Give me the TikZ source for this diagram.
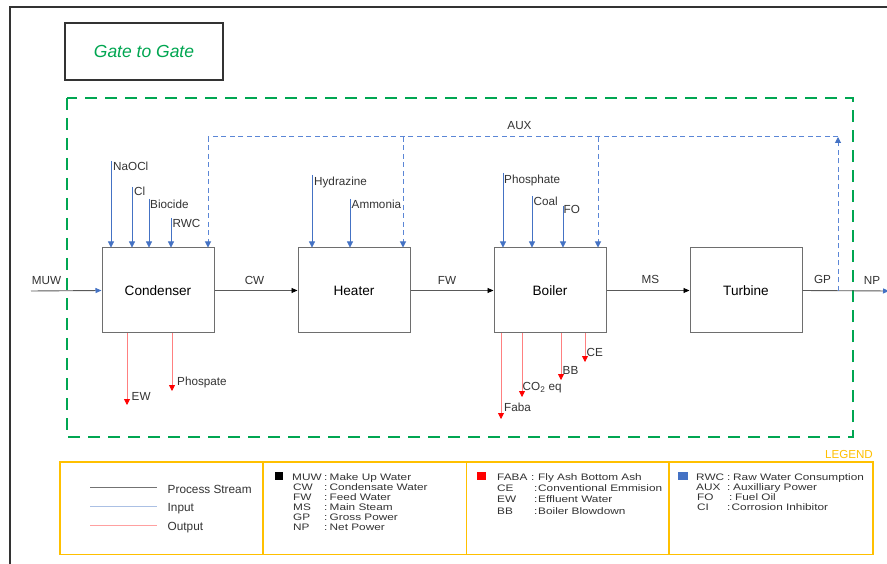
\documentclass[tikz,border=0pt]{standalone}
\usepackage{fontspec}
\setmainfont{Liberation Sans}
\usetikzlibrary{arrows.meta}
\definecolor{gatgreen}{HTML}{00A651}
\definecolor{inblue}{HTML}{4472C4}
\definecolor{auxblue}{HTML}{5B86D6}
\definecolor{outred}{HTML}{FF8080}
\definecolor{legy}{HTML}{FFC000}
\definecolor{boxgray}{HTML}{6E6E6E}
\definecolor{framegray}{HTML}{333333}
\definecolor{txtgray}{HTML}{333333}
\newcommand\lsq[1]{\scalebox{1}[0.8]{#1}}
\begin{document}
\begin{tikzpicture}[x=1pt,y=-1pt,
  unit/.style={draw=boxgray, line width=1pt, minimum width=112pt, minimum height=85pt, inner sep=0pt, text=black, font=\fontsize{13.6}{15}\selectfont},
  lbl/.style={inner sep=0pt, anchor=base west, text=txtgray, font=\fontsize{11.7}{13}\selectfont},
  flowlbl/.style={inner sep=0pt, anchor=base, text=txtgray, font=\fontsize{11.7}{13}\selectfont},
  proc/.style={draw=black!65, line width=0.9pt, -{Triangle[length=6pt,width=5pt,color=black]}},
  procb/.style={draw=black!65, line width=0.9pt, -{Triangle[length=6pt,width=5pt,color=inblue]}},
  inp/.style={draw=inblue, line width=0.8pt, -{Triangle[length=6pt,width=6pt,color=inblue]}},
  auxl/.style={draw=auxblue, line width=1pt, dash pattern=on 5pt off 3.5pt},
  auxa/.style={auxl, -{Triangle[length=6pt,width=6pt,color=inblue]}},
  outp/.style={draw=outred, line width=0.8pt, -{Triangle[length=6pt,width=6pt,color=red]}},
  legtxt/.style={inner sep=0pt, anchor=base west, text=txtgray, font=\fontsize{11.8}{12}\selectfont}
]
\useasboundingbox (0,0) rectangle (887,564);
\fill[white] (0,0) rectangle (887,564);

% outer frame
\draw[framegray, line width=2.2pt] (10,575) -- (10,7) -- (900,7);

% gate to gate
\node[draw=framegray, line width=1.5pt, minimum width=158pt, minimum height=57pt, inner sep=0pt,
      text=gatgreen, font=\fontsize{17.5}{19}\selectfont\itshape] (gtg) at (144,51.5) {Gate to Gate};

% boundary
\draw[gatgreen, line width=2.5pt, dash pattern=on 12pt off 8pt] (67,98) rectangle (853,437);

% units
\node[unit] (cond) at (158,290.5) {Condenser};
\node[unit] (heat) at (354,290.5) {Heater};
\node[unit] (boil) at (550,290.5) {Boiler};
\node[unit] (turb) at (746,290.5) {Turbine};

% main flows
\coordinate (muw) at (31,291);
\coordinate (npend) at (889,291);
\draw[procb] (muw) -- (cond.west);
\draw[proc] (cond.east) -- (heat.west);
\draw[proc] (heat.east) -- (boil.west);
\draw[proc] (boil.east) -- (turb.west);
\draw[procb] (turb.east) -- (npend);
\node[flowlbl] (lmuw) at (46.5,284.5) {MUW};
\node[flowlbl] (lcw) at (254.5,284.5) {CW};
\node[flowlbl] (lfw) at (447,284.5) {FW};
\node[flowlbl] (lms) at (650.5,284) {MS};
\node[flowlbl] (lgp) at (822.5,284) {GP};
\node[flowlbl] (lnp) at (872,284.5) {NP};

% AUX loop
\coordinate (auxsrc) at (838,291);
\coordinate (auxtop) at (838,137);
\coordinate (a1) at (208,137);
\coordinate (a2) at (403,137);
\coordinate (a3) at (598,137);
\draw[auxa] (auxsrc) -- (auxtop);
\draw[auxl] (auxtop) -- (a1);
\draw[auxa] (a1) -- (a1 |- cond.north);
\draw[auxa] (a2) -- (a2 |- heat.north);
\draw[auxa] (a3) -- (a3 |- boil.north);
\node[flowlbl] (laux) at (519.5,129.5) {AUX};

% condenser inputs
\coordinate (inaocl) at (111,161);
\coordinate (icl) at (132,187);
\coordinate (ibio) at (149,199);
\coordinate (irwc) at (171,218);
\draw[inp] (inaocl) -- (inaocl |- cond.north);
\draw[inp] (icl) -- (icl |- cond.north);
\draw[inp] (ibio) -- (ibio |- cond.north);
\draw[inp] (irwc) -- (irwc |- cond.north);
\node[lbl] (lnaocl) at (113,171) {NaOCl};
\node[lbl] (lcl) at (134,196) {Cl};
\node[lbl] (lbio) at (150,208.5) {Biocide};
\node[lbl] (lrwc) at (172.5,228) {RWC};

% heater inputs
\coordinate (ihyd) at (312,175);
\coordinate (iamm) at (350,199);
\draw[inp] (ihyd) -- (ihyd |- heat.north);
\draw[inp] (iamm) -- (iamm |- heat.north);
\node[lbl] (lhyd) at (314,186) {Hydrazine};
\node[lbl] (lamm) at (351.5,209) {Ammonia};

% boiler inputs
\coordinate (iphos) at (503,173);
\coordinate (icoal) at (532,196);
\coordinate (ifo) at (563,206);
\draw[inp] (iphos) -- (iphos |- boil.north);
\draw[inp] (icoal) -- (icoal |- boil.north);
\draw[inp] (ifo) -- (ifo |- boil.north);
\node[lbl] (lphos) at (504,183.5) {Phosphate};
\node[lbl] (lcoal) at (533.5,206) {Coal};
\node[lbl] (lfo) at (563.5,213.5) {FO};

% condenser outputs
\coordinate (oew) at (127,405);
\coordinate (ophos) at (172,391);
\draw[outp] (oew |- cond.south) -- (oew);
\draw[outp] (ophos |- cond.south) -- (ophos);
\node[lbl] (lew) at (131.5,400) {EW};
\node[lbl] (lophos) at (177,385.5) {Phospate};

% boiler outputs
\coordinate (ofaba) at (501,419);
\coordinate (oco) at (522,397);
\coordinate (obb) at (561,380);
\coordinate (oce) at (585,362);
\draw[outp] (ofaba |- boil.south) -- (ofaba);
\draw[outp] (oco |- boil.south) -- (oco);
\draw[outp] (obb |- boil.south) -- (obb);
\draw[outp] (oce |- boil.south) -- (oce);
\node[lbl] (lfaba) at (504,411) {Faba};
\node[lbl] (lco) at (522.5,390.5) {CO\textsubscript{2} eq};
\node[lbl] (lbb) at (562.5,374.5) {BB};
\node[lbl] (lce) at (586.5,356.5) {CE};

% legend
\node[inner sep=0pt, anchor=base east, text=legy, font=\fontsize{11.6}{12}\selectfont] (legtitle) at (873,458.5) {LEGEND};
\draw[legy, line width=1.6pt] (60,462) rectangle (873,554.5);
\draw[legy, line width=1.6pt] (263,462) -- (263,554.5);
\draw[legy, line width=1.6pt] (466.5,462) -- (466.5,554.5);
\draw[legy, line width=1.6pt] (669,462) -- (669,554.5);

% column 1
\draw[black!55, line width=1pt] (90,487) -- (157,487);
\draw[inblue!45, line width=1pt] (90,506.5) -- (157,506.5);
\draw[outred!75, line width=1pt] (90,525) -- (157,525);
\node[legtxt] (lps) at (167.5,493) {Process Stream};
\node[legtxt] (lin) at (167.5,511.3) {Input};
\node[legtxt] (lout) at (167.5,530) {Output};

% column 2
\fill[black] (275,472) rectangle (282.5,480);
\node[legtxt] (k1) at (292,480) {\lsq{MUW}};
\node[legtxt] (k2) at (293,490) {\lsq{CW}};
\node[legtxt] (k3) at (293,500) {\lsq{FW}};
\node[legtxt] (k4) at (293,510.5) {\lsq{MS}};
\node[legtxt] (k5) at (293,520.5) {\lsq{GP}};
\node[legtxt] (k6) at (293,530.5) {\lsq{NP}};
\node[legtxt] (c1) at (324,480) {\lsq{:}};
\node[legtxt] (c2) at (324,490) {\lsq{:}};
\node[legtxt] (c3) at (324,500) {\lsq{:}};
\node[legtxt] (c4) at (324,510.5) {\lsq{:}};
\node[legtxt] (c5) at (324,520.5) {\lsq{:}};
\node[legtxt] (c6) at (324,530.5) {\lsq{:}};
\node[legtxt] (d1) at (329.5,480) {\lsq{Make Up Water}};
\node[legtxt] (d2) at (329.5,490) {\lsq{Condensate Water}};
\node[legtxt] (d3) at (329.5,500) {\lsq{Feed Water}};
\node[legtxt] (d4) at (329.5,510.5) {\lsq{Main Steam}};
\node[legtxt] (d5) at (329.5,520.5) {\lsq{Gross Power}};
\node[legtxt] (d6) at (329.5,530.5) {\lsq{Net Power}};

% column 3
\fill[red] (477,472) rectangle (486,480);
\node[legtxt] (k7) at (497,480) {\lsq{FABA}};
\node[legtxt] (k8) at (497,491) {\lsq{CE}};
\node[legtxt] (k9) at (497,502.5) {\lsq{EW}};
\node[legtxt] (k10) at (497,514) {\lsq{BB}};
\node[legtxt] (c7) at (531,480) {\lsq{:}};
\node[legtxt] (c8) at (534,491) {\lsq{:}};
\node[legtxt] (c9) at (534,502.5) {\lsq{:}};
\node[legtxt] (c10) at (534,514) {\lsq{:}};
\node[legtxt] (d7) at (538,480) {\lsq{Fly Ash Bottom Ash}};
\node[legtxt] (d8) at (538,491) {\lsq{Conventional Emmision}};
\node[legtxt] (d9) at (538,502.5) {\lsq{Effluent Water}};
\node[legtxt] (d10) at (538,514) {\lsq{Boiler Blowdown}};

% column 4
\fill[inblue] (678,472) rectangle (687.5,480);
\node[legtxt] (k11) at (696,480) {\lsq{RWC}};
\node[legtxt] (k12) at (696,490) {\lsq{AUX}};
\node[legtxt] (k13) at (697,500) {\lsq{FO}};
\node[legtxt] (k14) at (697,510) {\lsq{CI}};
\node[legtxt] (c11) at (727,480) {\lsq{:}};
\node[legtxt] (c12) at (727,490) {\lsq{:}};
\node[legtxt] (c13) at (729,500) {\lsq{:}};
\node[legtxt] (c14) at (727,510) {\lsq{:}};
\node[legtxt] (d11) at (733,480) {\lsq{Raw Water Consumption}};
\node[legtxt] (d12) at (733,490) {\lsq{Auxilliary Power}};
\node[legtxt] (d13) at (735,500) {\lsq{Fuel Oil}};
\node[legtxt] (d14) at (731.5,510) {\lsq{Corrosion Inhibitor}};
\end{tikzpicture}
\end{document}
